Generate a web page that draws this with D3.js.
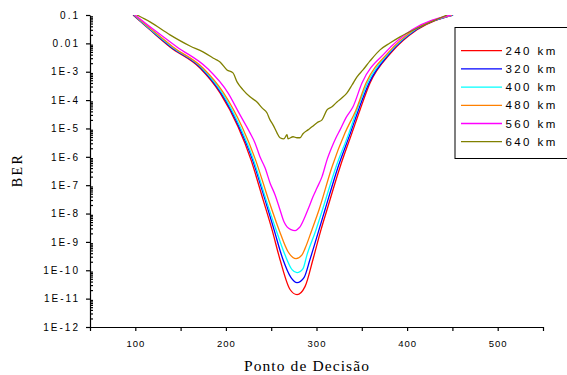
<!DOCTYPE html>
<html>
<head>
<meta charset="utf-8">
<script src="https://cdn.jsdelivr.net/npm/d3@7"></script>
<style>
  body { margin: 0; background: #fff; }
  svg { display: block; }
</style>
</head>
<body>
<div id="d3-container"></div>
<script>
/**
 * CONSTANTS AND GLOBALS
 * */
"use strict"

const width = 567,
  height = 375,
  margin = { top: 15, bottom: 48, left: 90, right: 24 };

// series names / colours
const seriesNames = ["240 km", "320 km", "400 km", "480 km", "560 km", "640 km"];
const seriesColors = ["#ff0000", "#0000ff", "#00ffff", "#ff8000", "#ff00ff", "#808000"];

// [ponto de decisão, BER]
const ber240 = [[97.5,1e-1],[116.2,3.0e-2],[138.3,7.5e-3],[171.4,1.36e-3],[193.5,1.8e-4],[213.4,1.14e-5],[227.7,7.8e-7],[241.0,3.1e-8],[250.9,2.7e-9],[259.7,2.4e-10],[270.8,2.1e-11],[278.5,1.38e-11],[287.3,2.65e-11],[296.1,2.4e-10],[305.0,2.7e-9],[311.6,1.36e-8],[326.0,4.4e-7],[339.2,7.0e-6],[348.0,4.5e-5],[359.1,4.0e-4],[382.2,4.6e-3],[410.9,3.0e-2],[450.7,1e-1]];
const ber320 = [[98.0,1e-1],[116.8,3.0e-2],[139.4,7.5e-3],[172.5,1.36e-3],[194.6,1.8e-4],[214.5,1.14e-5],[229.4,7.8e-7],[243.2,3.1e-8],[253.1,2.7e-9],[263.0,2.4e-10],[271.9,5.5e-11],[278.5,3.66e-11],[286.2,5.5e-11],[292.8,2.4e-10],[302.8,2.7e-9],[309.4,1.36e-8],[323.8,4.4e-7],[337.5,7.0e-6],[346.3,4.5e-5],[358.0,4.0e-4],[381.1,4.6e-3],[409.8,3.0e-2],[450.7,1e-1]];
const ber400 = [[98.6,1e-1],[117.3,3.0e-2],[140.5,7.5e-3],[173.6,1.36e-3],[195.7,1.8e-4],[215.6,1.14e-5],[230.5,7.8e-7],[244.3,3.1e-8],[255.3,2.7e-9],[265.2,3.5e-10],[273.0,1.05e-10],[278.5,8.2e-11],[285.1,1.14e-10],[289.5,3.5e-10],[299.5,2.7e-9],[306.6,1.36e-8],[321.5,4.4e-7],[335.9,7.0e-6],[344.7,4.5e-5],[356.3,4.0e-4],[380.0,4.6e-3],[408.7,3.0e-2],[450.1,1e-1]];
const ber480 = [[99.1,1e-1],[118.4,3.0e-2],[141.6,7.5e-3],[174.7,1.36e-3],[197.4,1.8e-4],[217.8,1.14e-5],[232.7,7.8e-7],[247.0,3.1e-8],[258.6,2.7e-9],[268.6,4.5e-10],[277.4,2.56e-10],[284.0,3.5e-10],[287.3,5.8e-10],[295.0,2.7e-9],[302.8,1.36e-8],[317.1,4.4e-7],[331.5,7.0e-6],[343.6,4.5e-5],[354.7,4.0e-4],[378.9,4.6e-3],[407.6,3.0e-2],[449.6,1e-1]];
const ber560 = [[99.7,1e-1],[120.6,3.0e-2],[146.0,7.5e-3],[179.1,1.36e-3],[202.3,1.8e-4],[215.6,3.0e-5],[226.6,7.0e-6],[232.1,3.1e-6],[237.6,1.0e-6],[243.2,4.1e-7],[248.7,1.2e-7],[254.2,4.6e-8],[259.7,1.36e-8],[264.1,5.1e-9],[267.5,3.4e-9],[271.9,2.7e-9],[276.3,2.5e-9],[279.6,2.9e-9],[281.8,3.4e-9],[287.3,7.7e-9],[291.7,1.7e-8],[296.1,3.9e-8],[300.6,8.1e-8],[306.1,2.0e-7],[311.6,7.8e-7],[317.1,2.25e-6],[321.5,4.7e-6],[326.0,8.9e-6],[332.6,2.4e-5],[340.3,5.8e-5],[350.2,4.0e-4],[375.6,4.6e-3],[405.4,3.0e-2],[448.5,1e-1]];
const ber640 = [[101.9,1e-1],[116.2,5.7e-2],[138.3,2.0e-2],[160.4,8.1e-3],[174.7,5.0e-3],[188.0,2.8e-3],[193.5,2.2e-3],[201.2,1.16e-3],[207.8,9.1e-4],[212.3,4.4e-4],[218.9,2.3e-4],[226.6,1.3e-4],[234.3,8.6e-5],[239.9,5.3e-5],[245.4,3.5e-5],[248.7,2.0e-5],[252.0,1.34e-5],[256.4,7.0e-6],[259.7,4.7e-6],[264.1,4.3e-6],[267.5,6.0e-6],[268.6,4.3e-6],[274.1,5.1e-6],[278.5,4.7e-6],[281.8,4.7e-6],[285.1,6.5e-6],[290.6,8.9e-6],[295.0,1.14e-5],[300.6,1.6e-5],[306.1,2.0e-5],[311.6,4.5e-5],[317.1,5.8e-5],[322.6,8.6e-5],[328.2,1.2e-4],[333.7,1.8e-4],[339.2,3.4e-4],[344.7,6.6e-4],[351.3,1.16e-3],[359.1,2.4e-3],[370.1,5.9e-3],[381.1,1.03e-2],[392.2,1.7e-2],[414.3,3.8e-2],[444.1,1e-1]];

// axis ticks
const xTickValues = [50, 100, 150, 200, 250, 300, 350, 400, 450, 500, 550];
const xTickLabels = { 100: "100", 200: "200", 300: "300", 400: "400", 500: "500" };
const yTickValues = [1e-12, 1e-11, 1e-10, 1e-9, 1e-8, 1e-7, 1e-6, 1e-5, 1e-4, 1e-3, 1e-2, 1e-1];
const yTickLabels = ["1E-12", "1E-11", "1E-10", "1E-9", "1E-8", "1E-7", "1E-6", "1E-5", "1E-4", "1E-3", "0.01", "0.1"];

const series = [ber240, ber320, ber400, ber480, ber560, ber640].map((d, i) => ({
  name: seriesNames[i],
  color: seriesColors[i],
  values: d
}));

const sans = "'Liberation Sans', Arial, sans-serif";
const serif = "'Liberation Serif', 'Times New Roman', serif";

/**
 * SCALES
 * */
const x = d3.scaleLinear()
  .domain([50, 550])
  .range([margin.left, width - margin.right]);

const y = d3.scaleLog()
  .domain([1e-12, 1e-1])
  .range([height - margin.bottom, margin.top]);

const svg = d3.select("#d3-container")
  .append("svg")
  .attr("width", width)
  .attr("height", height)
  .style("background", "#fff");

svg.append("clipPath")
  .attr("id", "plot-clip")
  .append("rect")
  .attr("x", margin.left)
  .attr("y", margin.top)
  .attr("width", width - margin.left - margin.right)
  .attr("height", height - margin.top - margin.bottom);

/**
 * CURVES
 * */
const line = d3.line()
  .x(d => x(d[0]))
  .y(d => y(d[1]))
  .curve(d3.curveMonotoneX);

svg.append("g")
  .attr("clip-path", "url(#plot-clip)")
  .selectAll("path")
  .data(series)
  .join("path")
    .attr("fill", "none")
    .attr("stroke", d => d.color)
    .attr("stroke-width", 1.3)
    .attr("stroke-linejoin", "round")
    .attr("d", d => line(d.values));

/**
 * AXES
 * */
// minor y ticks (inside)
const yMinor = [];
for (let e = -12; e < -1; e++) {
  for (let m = 2; m <= 9; m++) yMinor.push(m * Math.pow(10, e));
}

const yMinorAxis = svg.append("g")
  .attr("transform", `translate(${margin.left},0)`)
  .call(d3.axisRight(y).tickValues(yMinor).tickSize(3).tickFormat("").tickSizeOuter(0));
yMinorAxis.select(".domain").remove();

const yAxis = svg.append("g")
  .attr("transform", `translate(${margin.left},0)`)
  .call(d3.axisLeft(y)
    .tickValues(yTickValues)
    .tickFormat((d, i) => yTickLabels[i])
    .tickSize(4)
    .tickPadding(6)
    .tickSizeOuter(0));

yAxis.selectAll("text")
  .style("font-family", sans)
  .style("font-size", "10px")
  .style("letter-spacing", "2px")
  .attr("fill", "#000");

const xAxis = svg.append("g")
  .attr("transform", `translate(0,${height - margin.bottom})`)
  .call(d3.axisBottom(x)
    .tickValues(xTickValues)
    .tickFormat(d => xTickLabels[d] || "")
    .tickSize(4)
    .tickPadding(9)
    .tickSizeOuter(0));

xAxis.selectAll("text")
  .style("font-family", sans)
  .style("font-size", "9.5px")
  .style("letter-spacing", "1px")
  .attr("fill", "#000");

svg.selectAll(".domain, .tick line")
  .attr("stroke", "#000")
  .attr("stroke-width", 1.2);

// axis titles
svg.append("text")
  .attr("x", 307)
  .attr("y", 371)
  .attr("text-anchor", "middle")
  .style("font-family", serif)
  .style("font-size", "15.5px")
  .style("letter-spacing", "1.1px")
  .text("Ponto de Decisão");

svg.append("text")
  .attr("transform", "translate(22,170) rotate(-90)")
  .attr("text-anchor", "middle")
  .style("font-family", serif)
  .style("font-size", "14px")
  .style("letter-spacing", "2.5px")
  .text("BER");

/**
 * LEGEND
 * */
const legend = svg.append("g")
  .attr("transform", "translate(455,27.5)");

legend.append("rect")
  .attr("width", 130)
  .attr("height", 131)
  .attr("fill", "#fff")
  .attr("stroke", "#000")
  .attr("stroke-width", 1);

const item = legend.selectAll("g.item")
  .data(series)
  .join("g")
    .attr("class", "item")
    .attr("transform", (d, i) => `translate(0,${23.2 + i * 18.2})`);

item.append("line")
  .attr("x1", 6)
  .attr("x2", 47)
  .attr("stroke", d => d.color)
  .attr("stroke-width", 1.3);

item.append("text")
  .attr("x", 50.5)
  .attr("dy", "0.36em")
  .style("font-family", sans)
  .style("font-size", "11.5px")
  .style("letter-spacing", "2.4px")
  .text(d => d.name);
</script>
</body>
</html>
